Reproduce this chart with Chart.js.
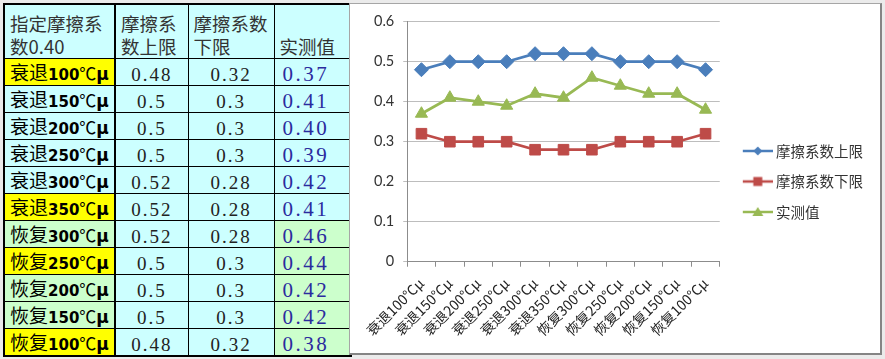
<!DOCTYPE html>
<html>
<head>
<meta charset="utf-8">
<script src="https://cdn.jsdelivr.net/npm/chart.js@4/dist/chart.umd.min.js"></script>
<style>
  html, body { margin: 0; padding: 0; background: #ebebeb; width: 885px; height: 359px; overflow: hidden; }
  #tbl { position: absolute; left: 3px; top: 3px; border-collapse: collapse; table-layout: fixed; width: 347px; border: 2px solid #000; }
  #tbl td { border: 1px solid #000; padding: 0; background: #ccffff; vertical-align: top; }
  #tbl td > div { height: 26px; line-height: 26px; overflow: hidden; white-space: nowrap; }
  #tbl tr.head td > div { height: 53px; line-height: 23px; display: flex; flex-direction: column; justify-content: flex-end; font-family: "Noto Sans CJK SC", sans-serif; font-size: 18.5px; color: #333; padding-left: 5px; }
  #tbl tr.head td > div span { display: block; height: 23px; }
  #tbl td.c1 { border-right: 2px solid #000; }
  #tbl td.c1 > div { padding-left: 5px; }
  #tbl td.yellow { background: #ffff00; }
  #tbl td.green { background: #ccffcc; }
  .cn { font-family: "Noto Sans CJK SC", sans-serif; font-size: 19px; color: #000; }
  .bd { font-family: "DejaVu Sans", sans-serif; font-weight: bold; font-size: 15px; color: #000; }
  .mu { font-family: "DejaVu Sans", sans-serif; font-weight: bold; font-size: 17px; color: #000; }
  .deg { font-family: "Noto Sans CJK SC", sans-serif; font-size: 17px; color: #000; }
  .lim { font-family: "Liberation Serif", serif; font-size: 19px; letter-spacing: 2px; color: #222; position: relative; top: 3px; }
  .meas { font-family: "Liberation Serif", serif; font-size: 21px; letter-spacing: 2.5px; color: #2b2b9e; position: relative; top: 2px; padding-left: 8px; }
  td.num > div { text-align: center; }
  #box { position: absolute; left: 349px; top: 3px; width: 533px; height: 352px; box-sizing: border-box; background: #fff; border: 1px solid #a6a6a6; border-right: 2px solid #858585; border-bottom: 2px solid #858585; }
  #chart { display: block; }
</style>
</head>
<body>
<table id="tbl">
  <colgroup><col style="width:111px"><col style="width:73px"><col style="width:86px"><col style="width:77px"></colgroup>
  <tbody id="tbody"></tbody>
</table>
<div id="box"><canvas id="chart" width="530" height="349"></canvas></div>
<script>
// ---- data ----
const categories = ['衰退100℃μ','衰退150℃μ','衰退200℃μ','衰退250℃μ','衰退300℃μ','衰退350℃μ','恢复300℃μ','恢复250℃μ','恢复200℃μ','恢复150℃μ','恢复100℃μ'];
const upperLimit = [0.48, 0.5, 0.5, 0.5, 0.52, 0.52, 0.52, 0.5, 0.5, 0.5, 0.48];
const lowerLimit = [0.32, 0.3, 0.3, 0.3, 0.28, 0.28, 0.28, 0.3, 0.3, 0.3, 0.32];
const measured   = [0.37, 0.41, 0.40, 0.39, 0.42, 0.41, 0.46, 0.44, 0.42, 0.42, 0.38];
const seriesNames = ['摩擦系数上限', '摩擦系数下限', '实测值'];
const yTickLabels = ['0', '0.1', '0.2', '0.3', '0.4', '0.5', '0.6'];
const headerLines = [['指定摩擦系', '数0.40'], ['摩擦系', '数上限'], ['摩擦系数', '下限'], ['', '实测值']];

// ---- styles (kept apart from data) ----
const firstColFill = ['yellow','','','','','yellow','green','yellow','green','green','yellow'];
const measuredFill = ['','','','','','','green','green','green','green','green'];
const colors = ['#4a7ebb', '#be4b48', '#98b954'];

// ---- table ----
const tbody = document.getElementById('tbody');
let html = '<tr class="head">' + headerLines.map((l, i) =>
  '<td' + (i === 0 ? ' class="c1"' : '') + '><div>' + (l[0] ? '<span>' + l[0] + '</span>' : '') + '<span>' + l[1] + '</span></div></td>').join('') + '</tr>';
categories.forEach((cat, i) => {
  const m = cat.match(/^(\D+?)(\d+)(℃)(μ)$/);
  const label = '<span class="cn">' + m[1] + '</span><span class="bd">' + m[2] + '</span><span class="deg">' + m[3] + '</span><span class="mu">' + m[4] + '</span>';
  html += '<tr>' +
    '<td class="c1 ' + firstColFill[i] + '"><div>' + label + '</div></td>' +
    '<td class="num"><div><span class="lim">' + String(upperLimit[i]) + '</span></div></td>' +
    '<td class="num"><div><span class="lim">' + String(lowerLimit[i]) + '</span></div></td>' +
    '<td class="' + measuredFill[i] + '"><div><span class="meas">' + measured[i].toFixed(2) + '</span></div></td>' +
    '</tr>';
});
tbody.innerHTML = html;

// ---- legend icons (line with marker) ----
function makeIcon(color, shape) {
  const c = document.createElement('canvas');
  c.width = 41; c.height = 14;
  const g = c.getContext('2d');
  g.strokeStyle = color; g.fillStyle = color; g.lineWidth = 2.5;
  g.beginPath(); g.moveTo(11, 7); g.lineTo(41, 7); g.stroke();
  const cx = 26, cy = 7;
  g.beginPath();
  if (shape === 'diamond') { g.moveTo(cx, cy - 4.5); g.lineTo(cx + 4.5, cy); g.lineTo(cx, cy + 4.5); g.lineTo(cx - 4.5, cy); }
  else if (shape === 'square') { g.rect(cx - 4.5, cy - 4.5, 9, 9); }
  else { g.moveTo(cx, cy - 5); g.lineTo(cx + 5.5, cy + 4); g.lineTo(cx - 5.5, cy + 4); }
  g.closePath(); g.fill();
  return c;
}
const icons = [makeIcon(colors[0], 'diamond'), makeIcon(colors[1], 'square'), makeIcon(colors[2], 'triangle')];

// ---- chart ----
const seriesValues = [upperLimit, lowerLimit, measured];
const pointStyles = ['rectRot', 'rect', 'triangle'];
const pointRadii = [7, 7.5, 7];

new Chart(document.getElementById('chart'), {
  type: 'line',
  data: {
    labels: categories,
    datasets: seriesValues.map((vals, i) => ({
      label: seriesNames[i],
      data: vals,
      borderColor: colors[i],
      backgroundColor: colors[i],
      pointBackgroundColor: colors[i],
      pointBorderColor: colors[i],
      pointBorderWidth: 1,
      pointStyle: pointStyles[i],
      pointRadius: pointRadii[i],
      borderWidth: 2.75,
      tension: 0
    }))
  },
  options: {
    responsive: false,
    animation: false,
    layout: { padding: { left: 15, right: 7, top: 12, bottom: 6 } },
    plugins: {
      tooltip: { enabled: false },
      legend: {
        position: 'right',
        maxWidth: 220,
        labels: {
          usePointStyle: true,
          pointStyleWidth: 33,
          padding: 16,
          color: '#333',
          font: { family: 'Noto Sans CJK SC', size: 14.5 },
          generateLabels: (chart) => chart.data.datasets.map((d, i) => ({
            text: d.label,
            pointStyle: icons[i],
            fillStyle: 'rgba(0,0,0,0)',
            strokeStyle: 'rgba(0,0,0,0)',
            lineWidth: 0,
            hidden: false,
            datasetIndex: i,
            fontColor: '#333'
          }))
        }
      }
    },
    scales: {
      x: {
        offset: true,
        grid: { offset: true, drawOnChartArea: false, drawTicks: true, tickLength: 5, color: '#8c8c8c' },
        border: { color: '#8c8c8c', width: 1 },
        ticks: { minRotation: 45, maxRotation: 45, autoSkip: false, padding: 8, color: '#222', font: { family: 'Noto Sans CJK SC', size: 14 } }
      },
      y: {
        min: 0, max: 0.6,
        grid: { color: '#bdbdbd', tickLength: 4, drawTicks: true },
        border: { color: '#8c8c8c', width: 1 },
        ticks: { stepSize: 0.1, padding: 9, color: '#333', font: { family: 'Lato', size: 14.5 }, callback: (v, i) => yTickLabels[i] }
      }
    }
  }
});
</script>
</body>
</html>
